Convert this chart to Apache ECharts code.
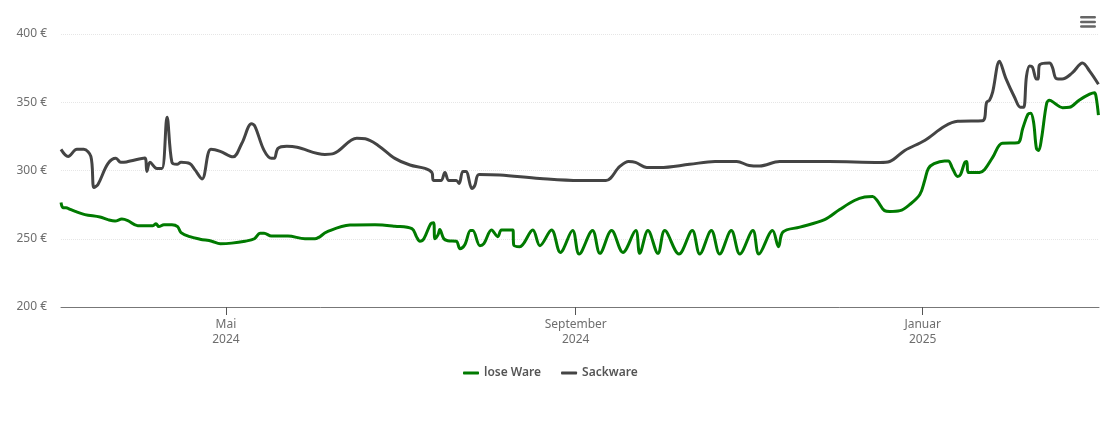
<!DOCTYPE html>
<html>
<head>
<meta charset="utf-8">
<title>Preisverlauf</title>
<script src="https://cdn.jsdelivr.net/npm/echarts@6/dist/echarts.min.js"></script>
<style>
html, body { margin: 0; padding: 0; background: #fff; }
#main { width: 1110px; height: 422px; }
</style>
</head>
<body>
<div id="main"></div>
<script>
// days counted from the first day of the chart
var looseDays = [0,0.7,1.8,3,5,8.4,13.7,16.5,19,21.4,23.5,27,32.3,33.4,34.4,36.2,39,41,42.2,45.3,48.9,53,56,60,64.7,68,70,71.4,74,79.8,85.8,89.3,93.5,101.6,110.4,117.4,123.4,125,126.2,127.6,130,131,131.5,132.6,133.2,134.6,136,139,140.3,142,144,144.8,147.3,148.7,151.4,153.6,154.9,158.9,159.2,161.3,165.9,168.4,172.5,175.6,179.9,182.2,186.9,189.5,193.6,197.6,202.1,203.5,206.4,209.9,212.3,217.3,222,224.6,228.7,231.6,235.7,238.7,243.3,245.4,250.2,252.3,253.9,259.8,268.5,273.8,279,282.6,285.4,287,289.6,291.4,295,298.4,302,303.7,305,307,310.7,312,313.5,315.3,316.3,317.8,318.5,319,323,324.8,327.6,331,336.4,338.2,340,341,342,343,343.8,344.8,346.6,347.6,349.4,352.2,354.6,358,361.7,363.4,364,364.8];
var looseValues = [276.5,272.8,272.8,271.7,270,267.7,265.9,264,263,264.4,263.3,259.6,259.6,261,258.9,260.3,260.3,258.9,254.5,251.5,249.7,248.2,246.4,246.8,248.2,250,254,254,252,252,250,250,255,260,260.3,259.2,257.4,251.5,248.2,250,261,261.8,250,253,256.7,250,248.6,248.2,242.7,245.6,256,256,244.9,246.4,256.4,251.5,256.4,256.4,245.4,244.2,256.4,244.9,256.4,240,256,238.8,256,239.3,256,240,256,239.3,256,239.3,256,238.8,256,238.8,256,238.8,256,238.8,256,238.8,256,244.2,255,258.5,264,271.4,278,280.6,281,278,270.6,270,270.6,275,282.4,292.7,301.5,305,307,307,301.5,295.6,297,306,306.6,298.6,298.6,300.8,309.6,320,320.3,331,341.2,342,335.3,316.2,314.7,323.6,349.3,351.5,349.3,346,346.3,351.5,355.9,357,353.7,340.5];

var sackDays = [0,2.5,5.6,8,10.5,11.6,13,16.5,19.3,21,23,29.5,30.2,31.3,33.7,35.5,37.3,39,40.8,42.2,45.3,47,49.6,52.7,56,60.5,63.6,67,68.2,71.4,74,75,76.3,79.4,83,92.8,96,104,107,111.5,117.4,122.7,128,130.4,131,133.6,135,136.4,139,140,141.3,142.4,144.5,145.5,147,154.3,168.4,182.4,191.6,196.5,199.6,202,206,210.5,221,230,237.6,242,245.7,252.7,270,288,291.4,296.7,303.7,310.7,315.3,324,325.5,326.5,327.6,330,332.2,335.3,337.4,338.5,339.5,340.6,341.6,343,343.6,344,347.6,348.6,350,352,355.5,359.2,361.7,364.8];
var sackValues = [315.5,310.3,315.5,315.5,310.3,287.5,289.8,305,308.9,306,306.3,309.2,299.3,306,301.5,301.5,339,306,304.5,306,305,300.8,293.8,315.5,314,310,320,334.2,332.4,314.7,308.9,308.9,316.2,317.7,317,311.8,312.5,323.6,323.2,318.4,308.9,304,301.5,298.6,292.7,292.7,298.6,292.7,292.7,290.5,299.3,299.3,286.8,289,297.1,296.7,294.2,292.7,292.7,303,306.6,306,302.2,302.2,304.5,306.6,306.6,303.7,303.3,306.6,306.6,305.9,306.6,314.7,322,332.4,336,336.4,350,351.5,357.4,380,367.7,353.7,346.3,346.3,369,376.5,375.7,367,367,377,378.7,375.7,367.3,367,371.3,378.7,372.8,363.2];

var tickYears = [2024, 2024, 2025];
var tickMonths = [4, 8, 0];
var monthNames = ['Januar','Februar','März','April','Mai','Juni','Juli','August','September','Oktober','November','Dezember'];

var DAY = 86400000;
var startTime = new Date(2024, 2, 4).getTime();

function toPoints(days, values){
    var out = [];
    for(var i = 0; i < days.length; i++){
        out.push([startTime + days[i] * DAY, values[i]]);
    }
    return out;
}

var tickTimes = [];
for(var i = 0; i < tickMonths.length; i++){
    tickTimes.push(new Date(tickYears[i], tickMonths[i], 1).getTime());
}

var font = '"Noto Sans", "Open Sans", sans-serif';
var chart = echarts.init(document.getElementById('main'));

var option = {
    animation: false,
    color: ['#007a00', '#444444'],
    grid: { left: 61, right: 11, top: 34, bottom: 115, containLabel: false },
    toolbox: {
        right: -1,
        top: 1,
        itemSize: 16,
        feature: {
            myMenu: {
                show: true,
                title: '',
                icon: 'path://M1,2H17A1,1 0 0 1 17,5H1A1,1 0 0 1 1,2ZM1,7.5H17A1,1 0 0 1 17,10.5H1A1,1 0 0 1 1,7.5ZM1,13H17A1,1 0 0 1 17,16H1A1,1 0 0 1 1,13Z',
                onclick: function(){}
            }
        },
        iconStyle: { color: '#666', borderWidth: 0 }
    },
    legend: {
        bottom: 38,
        left: 458,
        icon: 'roundRect',
        itemWidth: 16,
        itemHeight: 3,
        itemGap: 20,
        textStyle: { color: '#555', fontFamily: font, fontSize: 12, fontWeight: 600 },
        data: ['lose Ware', 'Sackware']
    },
    xAxis: {
        // plain numeric axis holding timestamps, ticks only at the three month starts
        type: 'value',
        min: startTime,
        max: startTime + 365 * DAY,
        axisLine: { lineStyle: { color: '#777', width: 1 } },
        axisTick: { show: true, length: 8, customValues: tickTimes, lineStyle: { color: '#555' } },
        splitLine: { show: false },
        axisLabel: {
            customValues: tickTimes,
            margin: 10,
            color: '#6e6e6e',
            fontFamily: font,
            fontSize: 12,
            lineHeight: 15,
            hideOverlap: false,
            formatter: function(val){
                var d = new Date(val);
                return monthNames[d.getMonth()] + '\n' + d.getFullYear();
            }
        }
    },
    yAxis: {
        type: 'value',
        min: 200,
        max: 400,
        interval: 50,
        axisLine: { show: false },
        axisTick: { show: false },
        axisLabel: { color: '#6e6e6e', fontFamily: font, fontSize: 12, margin: 14, padding: [4, 0, 0, 0], formatter: '{value} €' },
        splitLine: { lineStyle: { color: '#e6e6e6', type: 'dotted', width: 1 } }
    },
    series: [
        {
            name: 'lose Ware',
            type: 'line',
            data: toPoints(looseDays, looseValues),
            showSymbol: false,
            smooth: 0.35,
            lineStyle: { width: 3 }
        },
        {
            name: 'Sackware',
            type: 'line',
            data: toPoints(sackDays, sackValues),
            showSymbol: false,
            smooth: 0.35,
            lineStyle: { width: 3 }
        }
    ]
};

chart.setOption(option);
</script>
</body>
</html>
